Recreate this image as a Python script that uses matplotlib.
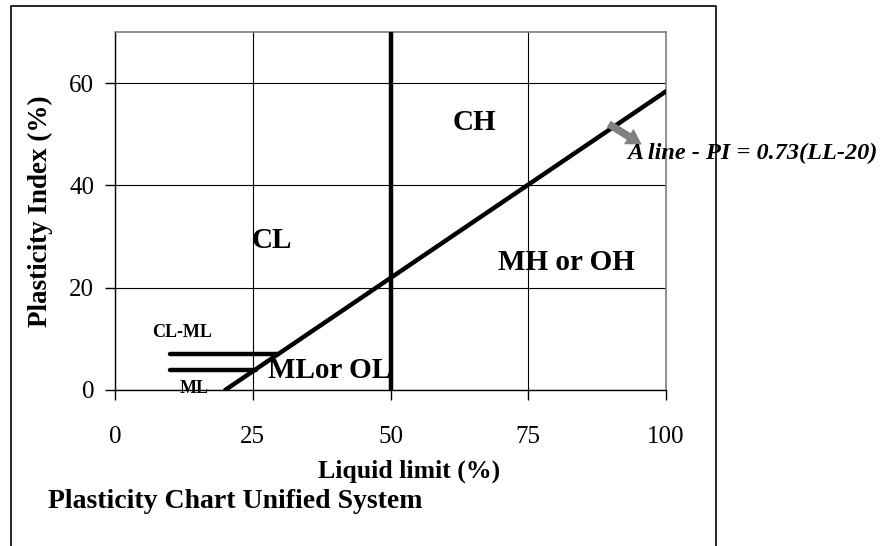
import matplotlib
matplotlib.use('Agg')
import matplotlib.pyplot as plt
from matplotlib.lines import Line2D

plt.rcParams['font.family'] = ['Liberation Serif', 'DejaVu Serif']

# ── Data ─────────────────────────────────────────────────────────────────────
a_line_ll = [20, 100]
a_line_pi = [0.73 * (x - 20) for x in a_line_ll]

u_ll = [50, 50]
u_pi = [0, 70]

clml_top_ll = [10, 29.6]
clml_top_pi = [7, 7]
clml_bot_ll = [10, 25.5]
clml_bot_pi = [4, 4]

xticks = [0, 25, 50, 75, 100]
yticks = [0, 20, 40, 60]

regions = ['CL', 'CH', 'MH or OH']
region_x = [28.5, 65.3, 81.9]
region_y = [29.3, 52.4, 25.0]

# ── Figure ───────────────────────────────────────────────────────────────────
W, H = 883, 546
fig = plt.figure(figsize=(W / 100, H / 100), dpi=100)
ax = fig.add_axes([115 / W, 1 - 390 / H, (666 - 115) / W, (390 - 32) / H])

ax.set_xlim(0, 100)
ax.set_ylim(0, 70)
ax.set_xticks(xticks)
ax.set_yticks(yticks)
ax.grid(True, color='black', lw=0.8)
ax.set_axisbelow(True)

for s in ['top', 'right']:
    ax.spines[s].set_color('#808080')
    ax.spines[s].set_linewidth(1.2)
for s in ['left', 'bottom']:
    ax.spines[s].set_color('black')
    ax.spines[s].set_linewidth(1.0)

ax.tick_params(axis='both', direction='out', length=7, width=1.0, labelsize=18)
ax.tick_params(axis='y', pad=8)
ax.tick_params(axis='x', pad=19)

thick = dict(color='black', lw=3.2, solid_capstyle='round', zorder=3)
ax.plot(a_line_ll, a_line_pi, **thick)
ax.plot(u_ll, u_pi, **dict(thick, solid_capstyle='butt'))
ax.plot(clml_top_ll, clml_top_pi, **thick)
ax.plot(clml_bot_ll, clml_bot_pi, **thick)

for lab, x, y in zip(regions, region_x, region_y):
    ax.text(x, y, lab, fontsize=21, fontweight='bold', ha='center', va='center')

ax.text(27.8, 3.9, 'MLor OL', fontsize=21, fontweight='bold', ha='left', va='center')
ax.text(12.25, 11.3, 'CL-ML', fontsize=13, fontweight='bold', ha='center', va='center')
ax.text(14.4, 0.2, 'ML', fontsize=13, fontweight='bold', ha='center', va='center', zorder=1)

ax.annotate('', xy=(95.6, 48.0), xytext=(89.6, 52.0),
            arrowprops=dict(arrowstyle='simple,head_width=1.3,head_length=1.1,tail_width=0.55',
                            color='#808080', lw=0, shrinkA=0, shrinkB=0))
ax.text(92.9, 46.3, 'A line - PI = 0.73(LL-20)', fontsize=17.5, fontweight='bold',
        fontstyle='italic', ha='left', va='center', clip_on=False)

fig.text(40 / W, 1 - 211 / H, 'Plasticity Index (%)', rotation=90, fontsize=19.5,
         fontweight='bold', ha='center', va='center')
fig.text(318 / W, 1 - 478 / H, 'Liquid limit (%)', fontsize=18.5,
         fontweight='bold', ha='left', va='baseline')
fig.text(48 / W, 1 - 508 / H, 'Plasticity Chart Unified System', fontsize=20,
         fontweight='bold', ha='left', va='baseline')

# outer frame (no bottom edge visible)
fx0, fx1, fy1 = 11 / W, 716 / W, 1 - 6 / H
fig.add_artist(Line2D([fx0, fx0, fx1, fx1], [0, fy1, fy1, 0], color='black', lw=1.2,
                      transform=fig.transFigure))

fig.savefig('out.png', dpi=100)
